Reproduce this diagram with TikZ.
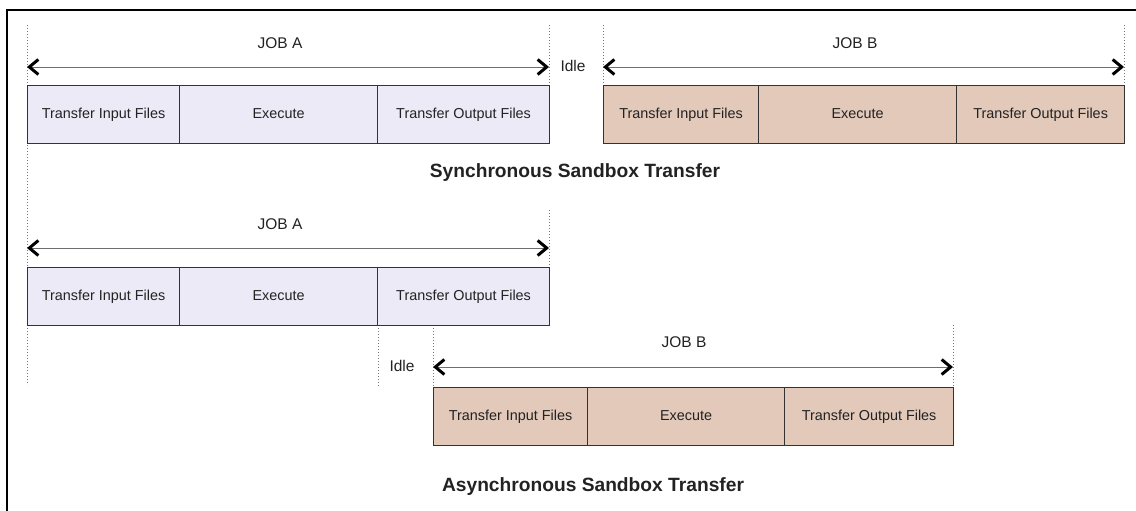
\documentclass[tikz,border=0pt]{standalone}
\usepackage{fontspec}
\setmainfont{Liberation Sans}
\usetikzlibrary{arrows.meta}
\definecolor{jobA}{RGB}{236,234,246}
\definecolor{jobB}{RGB}{226,201,186}
\definecolor{edge}{RGB}{51,51,51}
\definecolor{ink}{RGB}{34,34,34}
\definecolor{spanline}{RGB}{110,110,110}
\definecolor{guideline}{RGB}{120,120,120}

\begin{document}
\begin{tikzpicture}[x=1pt,y=-1pt,
  cell/.style={draw=edge, line width=1.2pt, minimum height=58pt, inner sep=0pt,
    anchor=north west, font=\fontsize{14.4}{16}\selectfont, text=ink,
    text height=10.5pt, text depth=3pt},
  cellA/.style={cell, fill=jobA},
  cellB/.style={cell, fill=jobB},
  barb/.tip={Straight Barb[length=9pt,width=15pt,line width=3pt,color=black]},
  span/.style={draw=spanline, line width=0.9pt, barb-barb},
  guide/.style={draw=guideline, line width=0.9pt, dash pattern=on 1pt off 2pt},
  lbl/.style={font=\fontsize{15.5}{18}\selectfont, text=ink, inner sep=0pt,
    text height=11pt, text depth=3pt},
  heading/.style={font=\bfseries\fontsize{19.2}{22}\selectfont, text=ink, inner sep=0pt}]

\useasboundingbox (0,0) rectangle (1136,511);
\draw[line width=2.6pt] (7,511) -- (7,10) -- (1136,10);

% ---------- time markers ----------
\coordinate (t0top) at (27,25);   \coordinate (t0bot) at (27,385);
\coordinate (sAtop) at (549,25);  \coordinate (sAbot) at (549,85);
\coordinate (sBtop) at (603,25);  \coordinate (sBbot) at (603,85);
\coordinate (sEtop) at (1124,25); \coordinate (sEbot) at (1124,85);
\coordinate (aAtop) at (549,210); \coordinate (aAbot) at (549,267);
\coordinate (aItop) at (378,325); \coordinate (aIbot) at (378,387);
\coordinate (aBtop) at (433,325); \coordinate (aBbot) at (433,387);
\coordinate (aEtop) at (953,325); \coordinate (aEbot) at (953,387);

\foreach \g in {t0,sA,sB,sE,aA,aI,aB,aE}
  \draw[guide] (\g top) -- (\g bot);

% ---------- synchronous transfer ----------
\coordinate (sJAl) at (27,67);  \coordinate (sJAr) at (549,67);
\coordinate (sJBl) at (603,67); \coordinate (sJBr) at (1124,67);
\draw[span] (sJAl) -- (sJAr);
\draw[span] (sJBl) -- (sJBr);
\node[lbl] (sjoba) at (280,45) {JOB A};
\node[lbl] (sjobb) at (855,45) {JOB B};
\node[lbl] (sidle) at (573,67) {Idle};

\node[cellA, minimum width=152pt] (sa1) at (27,85)  {Transfer Input Files};
\node[cellA, minimum width=198pt] (sa2) at (179,85) {Execute};
\node[cellA, minimum width=172pt] (sa3) at (377,85) {Transfer Output Files};

\node[cellB, minimum width=155pt] (sb1) at (603,85) {Transfer Input Files};
\node[cellB, minimum width=198pt] (sb2) at (758,85) {Execute};
\node[cellB, minimum width=168pt] (sb3) at (956,85) {Transfer Output Files};

\node[heading] (stitle) at (575,173) {Synchronous Sandbox Transfer};

% ---------- asynchronous transfer ----------
\coordinate (aJAl) at (27,248);  \coordinate (aJAr) at (549,248);
\coordinate (aJBl) at (433,367); \coordinate (aJBr) at (953,367);
\draw[span] (aJAl) -- (aJAr);
\draw[span] (aJBl) -- (aJBr);
\node[lbl] (ajoba) at (280,225) {JOB A};
\node[lbl] (ajobb) at (684,343) {JOB B};
\node[lbl] (aidle) at (402,367) {Idle};

\node[cellA, minimum width=152pt] (aa1) at (27,267)  {Transfer Input Files};
\node[cellA, minimum width=198pt] (aa2) at (179,267) {Execute};
\node[cellA, minimum width=172pt] (aa3) at (377,267) {Transfer Output Files};

\node[cellB, minimum width=154pt] (ab1) at (433,387) {Transfer Input Files};
\node[cellB, minimum width=197pt] (ab2) at (587,387) {Execute};
\node[cellB, minimum width=169pt] (ab3) at (784,387) {Transfer Output Files};

\node[heading] (atitle) at (593,487) {Asynchronous Sandbox Transfer};
\end{tikzpicture}
\end{document}
